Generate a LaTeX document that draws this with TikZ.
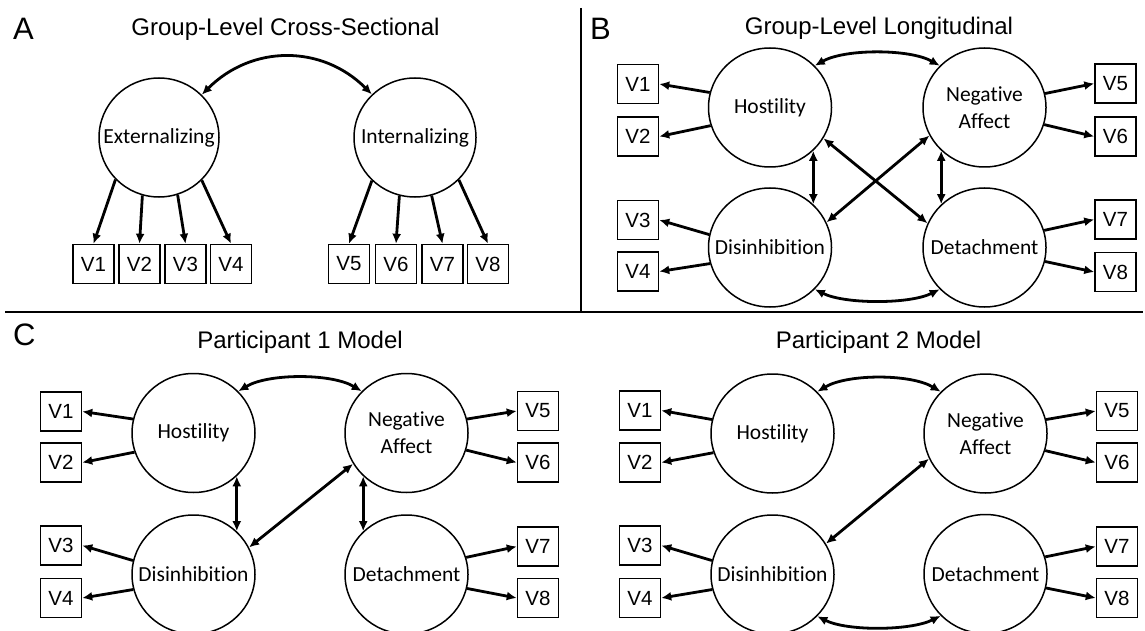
\documentclass[tikz,border=0pt]{standalone}
\usepackage{fontspec}
\setmainfont{Liberation Sans}
\newfontfamily\calib[Ligatures=NoCommon]{Carlito}
\usetikzlibrary{shapes.geometric,arrows.meta}
\begin{document}
\begin{tikzpicture}[x=1pt,y=-1pt,
 latent/.style={ellipse,draw,line width=1.5pt,minimum width=123pt,minimum height=119pt,inner sep=0pt},
 obs/.style={rectangle,draw,line width=1.5pt,minimum width=41pt,minimum height=39pt,inner sep=0pt,font=\fontsize{20.5}{20.5}\selectfont},
 ltxt/.style={font=\calib\fontsize{21.5}{27}\selectfont,align=center,inner sep=0pt},
 ttl/.style={font=\fontsize{24}{24}\selectfont,anchor=base,inner sep=0pt},
 plet/.style={font=\fontsize{31}{31}\selectfont,anchor=base west,inner sep=0pt},
 load/.style={line width=2.8pt,-{Latex[length=10pt,width=9pt]}},
 cov/.style={line width=2.8pt,{Latex[length=10pt,width=9pt]}-{Latex[length=10pt,width=9pt]}},
 sep/.style={line width=2.6pt}
]
\fill[white] (0,0) rectangle (1145,631);
\useasboundingbox (0,0) rectangle (1145,631);

% separators
\draw[sep] (5,312) -- (1143,312);
\draw[sep] (581,8) -- (581,312);

% ---------------- Panel A ----------------
\node[plet] (la) at (13,40) {A};
\node[ttl] (ta) at (285.5,36) {Group-Level Cross-Sectional};
\node[latent,minimum width=120pt,label={[ltxt]center:Externalizing}] (ext) at (159,137.5) {};
\node[latent,minimum width=122pt,label={[ltxt]center:Internalizing}] (int) at (415,137.5) {};
\node[obs] (a1) at (93.5,264) {V1};
\node[obs] (a2) at (139.5,264) {V2};
\node[obs] (a3) at (185.5,264) {V3};
\node[obs] (a4) at (231,264) {V4};
\node[obs] (a5) at (349,264) {V5};
\node[obs] (a6) at (396,264) {V6};
\node[obs] (a7) at (442.5,264) {V7};
\node[obs] (a8) at (488,264) {V8};
\draw[load] (ext.224) -- (a1.north);
\draw[load] (ext.254) -- (a2.north);
\draw[load] (ext.288) -- (a3.north);
\draw[load] (ext.315) -- (a4.north);
\draw[load] (int.225) -- (a5.north);
\draw[load] (int.255) -- (a6.north);
\draw[load] (int.286) -- (a7.north);
\draw[load] (int.316) -- (a8.north);
\draw[cov] (ext.45) .. controls +(50,-50) and +(-50,-50) .. (int.135);

% ---------------- Panel B ----------------
\node[plet] (lb) at (590,40) {B};
\node[ttl] (tb) at (879,35) {Group-Level Longitudinal};
\node[latent,label={[ltxt]center:Hostility}] (bhos) at (770,107.5) {};
\node[latent,label={[ltxt]center:Disinhibition}] (bdis) at (770,247.5) {};
\node[latent,label={[ltxt]center:{Negative\\Affect}}] (bna) at (984.5,107.5) {};
\node[latent,label={[ltxt]center:Detachment}] (bdet) at (984.5,247.5) {};
\node[obs] (b1) at (638,84) {V1};
\node[obs] (b2) at (638,136.5) {V2};
\node[obs] (b3) at (638,220) {V3};
\node[obs] (b4) at (638,271.5) {V4};
\node[obs] (b5) at (1115.5,83.5) {V5};
\node[obs] (b6) at (1115.5,136.5) {V6};
\node[obs] (b7) at (1115.5,219.5) {V7};
\node[obs] (b8) at (1115.5,272) {V8};
\draw[load] (bhos.166) -- (b1.east);
\draw[load] (bhos.197) -- (b2.east);
\draw[load] (bdis.168) -- (b3.east);
\draw[load] (bdis.195) -- (b4.east);
\draw[load] (bna.13) -- (b5.west);
\draw[load] (bna.-16) -- (b6.west);
\draw[load] (bdet.16) -- (b7.west);
\draw[load] (bdet.-13) -- (b8.west);
\draw[cov] (bhos.-45) -- (bdis.45);
\draw[cov] (bna.225) -- (bdet.135);
\draw[cov] (bhos.-30) -- (bdet.157);
\draw[cov] (bdis.24) -- (bna.207);
\draw[cov] (bhos.43) .. controls +(30,-17) and +(-30,-17) .. (bna.137);
\draw[cov] (bdis.-43) .. controls +(30,15) and +(-30,15) .. (bdet.223);

% ---------------- Panel C, participant 1 ----------------
\node[plet] (lc) at (13,345) {C};
\node[ttl] (tc1) at (300,348) {Participant 1 Model};
\node[latent,label={[ltxt]center:Hostility}] (chos) at (193.5,433) {};
\node[latent,label={[ltxt]center:Disinhibition}] (cdis) at (193.5,574.5) {};
\node[latent,label={[ltxt]center:{Negative\\Affect}}] (cna) at (406.5,433) {};
\node[latent,label={[ltxt]center:Detachment}] (cdet) at (406.5,574.5) {};
\node[obs] (c1) at (61,411.5) {V1};
\node[obs] (c2) at (61,462.5) {V2};
\node[obs] (c3) at (61,545.5) {V3};
\node[obs] (c4) at (61,598) {V4};
\node[obs] (c5) at (538,411) {V5};
\node[obs] (c6) at (538,462.5) {V6};
\node[obs] (c7) at (538,546.5) {V7};
\node[obs] (c8) at (538,598) {V8};
\draw[load] (chos.167) -- (c1.east);
\draw[load] (chos.198) -- (c2.east);
\draw[load] (cdis.167) -- (c3.east);
\draw[load] (cdis.194) -- (c4.east);
\draw[load] (cna.13) -- (c5.west);
\draw[load] (cna.-16) -- (c6.west);
\draw[load] (cdet.16) -- (c7.west);
\draw[load] (cdet.-13) -- (c8.west);
\draw[cov] (chos.-45) -- (cdis.45);
\draw[cov] (cna.225) -- (cdet.135);
\draw[cov] (cdis.26) -- (cna.210);
\draw[cov] (chos.43) .. controls +(30,-18) and +(-30,-18) .. (cna.137);

% ---------------- Panel C, participant 2 ----------------
\node[ttl] (tc2) at (878.5,348) {Participant 2 Model};
\node[latent,label={[ltxt]center:Hostility}] (dhos) at (772.5,433.5) {};
\node[latent,label={[ltxt]center:Disinhibition}] (ddis) at (772.5,574.5) {};
\node[latent,label={[ltxt]center:{Negative\\Affect}}] (dna) at (985.5,433.5) {};
\node[latent,label={[ltxt]center:Detachment}] (ddet) at (985.5,574) {};
\node[obs] (d1) at (640,410.5) {V1};
\node[obs] (d2) at (640,462.5) {V2};
\node[obs] (d3) at (640,545.5) {V3};
\node[obs] (d4) at (640,598) {V4};
\node[obs] (d5) at (1117,411) {V5};
\node[obs] (d6) at (1117,462.5) {V6};
\node[obs] (d7) at (1117,546.5) {V7};
\node[obs] (d8) at (1117,598) {V8};
\draw[load] (dhos.167) -- (d1.east);
\draw[load] (dhos.198) -- (d2.east);
\draw[load] (ddis.167) -- (d3.east);
\draw[load] (ddis.194) -- (d4.east);
\draw[load] (dna.13) -- (d5.west);
\draw[load] (dna.-16) -- (d6.west);
\draw[load] (ddet.16) -- (d7.west);
\draw[load] (ddet.-13) -- (d8.west);
\draw[cov] (ddis.30) -- (dna.204);
\draw[cov] (dhos.43) .. controls +(30,-18) and +(-30,-18) .. (dna.137);
\draw[cov] (ddis.-43) .. controls +(30,15) and +(-30,15) .. (ddet.223);
\end{tikzpicture}
\end{document}
